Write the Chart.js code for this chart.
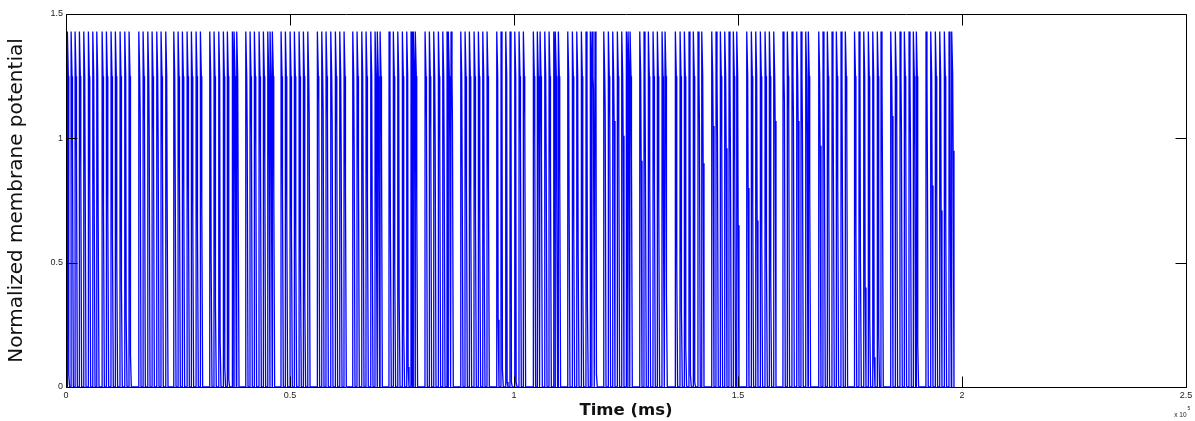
<!DOCTYPE html>
<html>
<head>
<meta charset="utf-8">
<script src="https://cdn.jsdelivr.net/npm/chart.js@4.4.1/dist/chart.umd.min.js"></script>
<style>
  html, body { margin: 0; padding: 0; background: #fff; overflow: hidden; }
  #wrap { width: 1195px; height: 421px; }
</style>
</head>
<body>
<div id="wrap"><canvas id="c" width="1195" height="421"></canvas></div>
<script>
// Spike onset times (ms), one line per burst
const spikeTimes = [
  290, 1120, 2010, 2970, 3950, 4980, 5960, 6850,
  8040, 9000, 10040, 11000, 12050, 13100, 14060,
  16230, 17190, 18240, 19200, 20240, 21200, 22250,
  24040, 25000, 25960, 27010, 27970, 29020, 29980,
  32070, 33030, 34080, 35110, 36000, 37120, 37500, 38100,
  40110, 41070, 42030, 43080, 44040, 45020, 45530, 46050,
  47990, 48950, 50000, 50960, 52010, 52970, 53950,
  56090, 57070, 58030, 59080, 60110, 61090, 62050,
  63990, 64950, 66000, 66960, 68010, 68970, 69480, 70090,
  72090, 73050, 74040, 75060, 76040, 77000, 77290, 77520, 77960,
  80130, 81090, 82070, 83100, 84080, 85040, 85330, 85930,
  88100, 89060, 90020, 91070, 92030, 93010, 93970,
  96130, 97090, 98140, 99100, 100150, 101110, 102070,
  104300, 105190, 105800, 106850, 107810, 108860, 109210, 109880,
  111980, 113010, 113990, 115020, 116060, 117020, 117400, 118070,
  120020, 121040, 122020, 123050, 124030, 125060, 125440, 125890,
  128050, 129010, 129970, 131020, 131980, 133030, 133700,
  136000, 137050, 138010, 139050, 140010, 141060, 141890,
  144120, 145080, 146040, 147020, 147980, 148940, 149700,
  151930, 152960, 153940, 154970, 156020, 156980, 157960,
  160030, 160990, 162040, 163090, 164050, 165100, 165680,
  168000, 168960, 169920, 170970, 171930, 172980, 173940,
  175990, 177000, 178050, 179070, 180060, 181080, 181910,
  184070, 185100, 186150, 187110, 188160, 189120, 189790,
  191950, 193000, 194030, 195010, 196040, 197090, 197690
];

// Level the potential falls to after each spike, before returning to rest
const tailLevels = [
  0.05, 0.96, 0.93, 0.89, 0.85, 0.81, 0.77, 0.68,
  0.72, 0.70, 0.60, 0.52, 0.41, 0.28, 0.13,
  1.10, 1.07, 1.04, 1.02, 0.99, 0.96, 0.74,
  0.88, 0.83, 0.78, 0.74, 0.68, 0.63, 0.72,
  0.50, 0.33, 0.18, 0.08, 0.03, 1.00, 0.82, 0.78,
  1.04, 1.01, 0.97, 0.95, 0.91, 0.89, 0.81, 0.79,
  0.79, 0.71, 0.64, 0.57, 0.48, 0.36, 1.10,
  1.15, 1.11, 1.09, 1.07, 1.04, 0.95, 0.79,
  0.96, 0.88, 0.82, 0.75, 0.70, 0.66, 0.80, 1.00,
  0.60, 0.48, 0.36, 0.22, 0.08, 0.03, 1.15, 0.79, 0.75,
  1.07, 1.04, 1.00, 0.97, 0.94, 0.90, 1.00, 1.07,
  0.85, 0.79, 0.75, 0.69, 0.63, 0.55, 0.79,
  0.27, 0.07, 0.02, 0.02, 0.02, 1.00, 1.09,
  1.00, 0.97, 0.94, 0.91, 0.87, 0.85, 0.78, 0.83,
  0.71, 0.62, 0.54, 0.44, 0.33, 0.18, 1.20, 0.05,
  1.12, 1.09, 1.07, 1.04, 1.01, 0.99, 0.73, 0.93,
  0.91, 0.87, 0.83, 0.79, 0.73, 0.68, 0.37,
  0.48, 0.31, 0.16, 0.05, 0.02, 1.05, 0.90,
  1.05, 1.01, 0.99, 0.96, 0.93, 0.90, 0.65,
  0.80, 0.73, 0.67, 0.60, 0.52, 0.42, 1.07,
  1.15, 1.12, 1.09, 1.07, 1.04, 1.00, 0.78,
  0.97, 0.92, 0.89, 0.85, 0.82, 0.77, 1.10,
  0.62, 0.51, 0.40, 0.28, 0.12, 0.20, 0.88,
  1.09, 1.05, 1.03, 1.01, 0.98, 0.95, 0.17,
  0.87, 0.81, 0.77, 0.71, 0.66, 0.60, 0.95
];

const peakLevel = 1.43;      // spike peak
const shoulderLevel = 1.25;  // after-peak shoulder
const restLevel = 0;

// Time offsets (ms) within one spike: peak, shoulder, tail, back at rest
const spikeShape = [20, 230, 330, 520];

const xTicks = [0, 50000, 100000, 150000, 200000, 250000];
const yTicks = [0, 0.5, 1, 1.5];

// Build the trace: rest -> peak -> shoulder -> tail -> rest for every spike
const trace = [{ x: 0, y: restLevel }];
spikeTimes.forEach((t, i) => {
  const next = i + 1 < spikeTimes.length ? spikeTimes[i + 1] : Infinity;
  const limit = next - 10;
  const [dp, ds, dt, dr] = spikeShape;
  const back = Math.min(t + dr, limit);
  const tail = Math.min(t + dt, back - 40);
  const sh = Math.min(t + ds, tail - 30);
  trace.push(
    { x: t, y: restLevel },
    { x: t + dp, y: peakLevel },
    { x: sh, y: shoulderLevel },
    { x: tail, y: tailLevels[i] },
    { x: back, y: restLevel }
  );
});

// Box around the plot with inward tick marks on all four sides
const framePlugin = {
  id: 'frame',
  afterDraw(chart) {
    const { ctx, chartArea: a, scales: { x, y } } = chart;
    const L = Math.round(a.left) + 0.5, R = Math.round(a.right) + 0.5;
    const T = Math.round(a.top) + 0.5, B = Math.round(a.bottom) + 0.5;
    const tl = 11;
    ctx.save();
    ctx.strokeStyle = '#000';
    ctx.lineWidth = 1;
    ctx.beginPath();
    ctx.rect(L, T, R - L, B - T);
    xTicks.forEach(v => {
      const px = Math.round(x.getPixelForValue(v)) + 0.5;
      ctx.moveTo(px, B); ctx.lineTo(px, B - tl);
      ctx.moveTo(px, T); ctx.lineTo(px, T + tl);
    });
    yTicks.forEach(v => {
      const py = Math.round(y.getPixelForValue(v)) + 0.5;
      ctx.moveTo(L, py); ctx.lineTo(L + tl, py);
      ctx.moveTo(R, py); ctx.lineTo(R - tl, py);
    });
    ctx.stroke();

    // axis multiplier
    ctx.fillStyle = '#222';
    ctx.textBaseline = 'alphabetic';
    ctx.textAlign = 'right';
    ctx.font = '6.5px "Liberation Sans", Arial, sans-serif';
    ctx.fillText('x 10', R, 417);
    ctx.textAlign = 'left';
    ctx.font = '5px "Liberation Sans", Arial, sans-serif';
    ctx.fillText('5', R + 1, 410);
    ctx.restore();
  }
};

new Chart(document.getElementById('c'), {
  type: 'line',
  data: {
    datasets: [{
      data: trace,
      borderColor: '#0000ff',
      borderWidth: 1.3,
      borderJoinStyle: 'bevel',
      pointRadius: 0,
      tension: 0,
      fill: false
    }]
  },
  options: {
    responsive: false,
    animation: false,
    devicePixelRatio: 1,
    layout: { padding: { top: 14, right: 9, bottom: 0, left: 0 } },
    plugins: { legend: { display: false }, tooltip: { enabled: false } },
    scales: {
      x: {
        type: 'linear',
        min: 0,
        max: 250000,
        afterFit(s) { s.height = 34; s.paddingLeft = 0; s.paddingRight = 0; },
        afterBuildTicks(s) { s.ticks = xTicks.map(v => ({ value: v })); },
        grid: { display: false, drawTicks: false },
        border: { display: false },
        ticks: {
          autoSkip: false,
          maxRotation: 0,
          padding: 3,
          color: '#222',
          font: { family: '"Liberation Sans", Arial, sans-serif', size: 9 },
          callback: v => String(v / 100000)
        },
        title: {
          display: true,
          text: 'Time (ms)',
          color: '#111',
          font: { family: '"DejaVu Sans", Verdana, sans-serif', size: 16.5, weight: 'bold' },
          padding: { top: 0, bottom: 0 }
        }
      },
      y: {
        type: 'linear',
        min: 0,
        max: 1.5,
        afterFit(s) { s.width = 66; },
        afterBuildTicks(s) { s.ticks = yTicks.map(v => ({ value: v })); },
        grid: { display: false, drawTicks: false },
        border: { display: false },
        ticks: {
          padding: 3,
          color: '#222',
          font: { family: '"Liberation Sans", Arial, sans-serif', size: 9 },
          callback: v => String(v)
        },
        title: {
          display: true,
          text: 'Normalized membrane potential',
          color: '#111',
          font: { family: '"DejaVu Sans", Verdana, sans-serif', size: 20 },
          padding: { top: 5, bottom: 0 }
        }
      }
    }
  },
  plugins: [framePlugin]
});
</script>
</body>
</html>
